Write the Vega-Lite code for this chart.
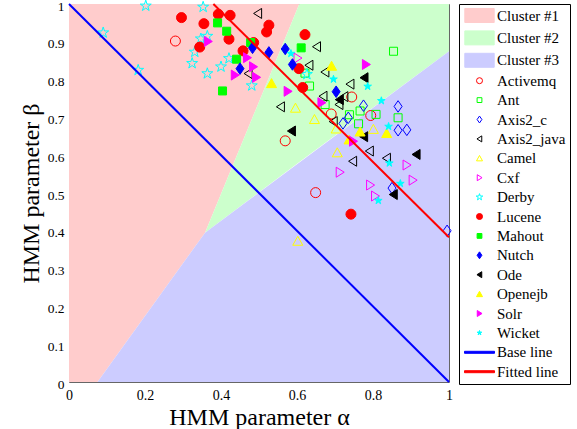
{
  "$schema": "https://vega.github.io/schema/vega-lite/v6.json",
  "width": 380,
  "height": 378,
  "autosize": {"type": "none"},
  "padding": {"left": 69, "top": 4, "right": 128, "bottom": 47},
  "background": "white",
  "config": {
    "view": {"stroke": "#666", "strokeWidth": 1},
    "font": "Liberation Serif",
    "style": {
      "guide-label": {"font": "Liberation Serif", "fill": "#000"},
      "guide-title": {"font": "Liberation Serif", "fill": "#000"}
    },
    "axis": {
      "domain": false, "ticks": false, "grid": false,
      "labelFont": "Liberation Serif", "labelFontSize": 14, "labelColor": "#000",
      "titleFont": "Liberation Serif", "titleFontSize": 24, "titleFontWeight": "normal", "titleColor": "#000"
    },
    "legend": {
      "offset": 10, "padding": 4, "strokeColor": "#000", "fillColor": "white", "cornerRadius": 0,
      "labelFont": "Liberation Serif", "labelFontSize": 15, "labelColor": "#000",
      "symbolSize": 36, "symbolStrokeWidth": 1, "rowPadding": 3.4,
      "labelOffset": 10, "symbolOffset": 9, "symbolLimit": 0
    }
  },
  "datasets": {
    "regions": [
      {"cluster": "Cluster #1", "a": 0, "b": 0, "hi": 1},
      {"cluster": "Cluster #1", "a": 0.075, "b": 0, "hi": 1},
      {"cluster": "Cluster #1", "a": 0.358, "b": 0.395, "hi": 1},
      {"cluster": "Cluster #1", "a": 0.606, "b": 1, "hi": 1},
      {"cluster": "Cluster #2", "a": 0.358, "b": 0.395, "hi": 0.395},
      {"cluster": "Cluster #2", "a": 0.606, "b": 0.582, "hi": 1},
      {"cluster": "Cluster #2", "a": 1, "b": 0.875, "hi": 1},
      {"cluster": "Cluster #3", "a": 0.075, "b": 0, "hi": 0},
      {"cluster": "Cluster #3", "a": 0.358, "b": 0, "hi": 0.395},
      {"cluster": "Cluster #3", "a": 1, "b": 0, "hi": 0.875}
    ],
    "lines": [
      {"line": "Base line", "a": 0, "b": 1},
      {"line": "Base line", "a": 1, "b": 0},
      {"line": "Fitted line", "a": 0.38, "b": 1},
      {"line": "Fitted line", "a": 1, "b": 0.383}
    ],
    "points": [
      {"name": "Activemq", "a": 0.280, "b": 0.902},
      {"name": "Activemq", "a": 0.744, "b": 0.754},
      {"name": "Activemq", "a": 0.690, "b": 0.709},
      {"name": "Activemq", "a": 0.794, "b": 0.705},
      {"name": "Activemq", "a": 0.569, "b": 0.638},
      {"name": "Activemq", "a": 0.649, "b": 0.501},
      {"name": "Ant", "a": 0.621, "b": 0.817},
      {"name": "Ant", "a": 0.633, "b": 0.783},
      {"name": "Ant", "a": 0.854, "b": 0.875},
      {"name": "Ant", "a": 0.674, "b": 0.734},
      {"name": "Ant", "a": 0.738, "b": 0.707},
      {"name": "Ant", "a": 0.766, "b": 0.717},
      {"name": "Ant", "a": 0.808, "b": 0.708},
      {"name": "Ant", "a": 0.866, "b": 0.699},
      {"name": "Ant", "a": 0.762, "b": 0.683},
      {"name": "Axis2_c", "a": 0.775, "b": 0.731},
      {"name": "Axis2_c", "a": 0.866, "b": 0.729},
      {"name": "Axis2_c", "a": 0.735, "b": 0.699},
      {"name": "Axis2_c", "a": 0.721, "b": 0.684},
      {"name": "Axis2_c", "a": 0.866, "b": 0.666},
      {"name": "Axis2_c", "a": 0.889, "b": 0.667},
      {"name": "Axis2_c", "a": 0.850, "b": 0.513},
      {"name": "Axis2_c", "a": 0.995, "b": 0.400},
      {"name": "Axis2_java", "a": 0.497, "b": 0.975},
      {"name": "Axis2_java", "a": 0.652, "b": 0.887},
      {"name": "Axis2_java", "a": 0.632, "b": 0.838},
      {"name": "Axis2_java", "a": 0.472, "b": 0.816},
      {"name": "Axis2_java", "a": 0.674, "b": 0.820},
      {"name": "Axis2_java", "a": 0.740, "b": 0.788},
      {"name": "Axis2_java", "a": 0.724, "b": 0.755},
      {"name": "Axis2_java", "a": 0.557, "b": 0.728},
      {"name": "Axis2_java", "a": 0.669, "b": 0.756},
      {"name": "Axis2_java", "a": 0.711, "b": 0.734},
      {"name": "Axis2_java", "a": 0.696, "b": 0.689},
      {"name": "Axis2_java", "a": 0.791, "b": 0.611},
      {"name": "Axis2_java", "a": 0.836, "b": 0.592},
      {"name": "Axis2_java", "a": 0.747, "b": 0.584},
      {"name": "Camel", "a": 0.596, "b": 0.725},
      {"name": "Camel", "a": 0.646, "b": 0.695},
      {"name": "Camel", "a": 0.801, "b": 0.669},
      {"name": "Camel", "a": 0.703, "b": 0.670},
      {"name": "Camel", "a": 0.706, "b": 0.607},
      {"name": "Camel", "a": 0.602, "b": 0.373},
      {"name": "Cxf", "a": 0.602, "b": 0.857},
      {"name": "Cxf", "a": 0.889, "b": 0.574},
      {"name": "Cxf", "a": 0.713, "b": 0.555},
      {"name": "Cxf", "a": 0.905, "b": 0.534},
      {"name": "Cxf", "a": 0.793, "b": 0.521},
      {"name": "Cxf", "a": 0.806, "b": 0.492},
      {"name": "Derby", "a": 0.202, "b": 0.995},
      {"name": "Derby", "a": 0.353, "b": 0.992},
      {"name": "Derby", "a": 0.090, "b": 0.924},
      {"name": "Derby", "a": 0.182, "b": 0.825},
      {"name": "Derby", "a": 0.364, "b": 0.915},
      {"name": "Derby", "a": 0.347, "b": 0.908},
      {"name": "Derby", "a": 0.331, "b": 0.873},
      {"name": "Derby", "a": 0.324, "b": 0.843},
      {"name": "Derby", "a": 0.364, "b": 0.816},
      {"name": "Derby", "a": 0.400, "b": 0.834},
      {"name": "Derby", "a": 0.421, "b": 0.856},
      {"name": "Derby", "a": 0.481, "b": 0.784},
      {"name": "Derby", "a": 0.626, "b": 0.814},
      {"name": "Lucene", "a": 0.296, "b": 0.964},
      {"name": "Lucene", "a": 0.355, "b": 0.948},
      {"name": "Lucene", "a": 0.393, "b": 0.973},
      {"name": "Lucene", "a": 0.424, "b": 0.970},
      {"name": "Lucene", "a": 0.421, "b": 0.907},
      {"name": "Lucene", "a": 0.344, "b": 0.886},
      {"name": "Lucene", "a": 0.458, "b": 0.876},
      {"name": "Lucene", "a": 0.486, "b": 0.898},
      {"name": "Lucene", "a": 0.526, "b": 0.944},
      {"name": "Lucene", "a": 0.520, "b": 0.926},
      {"name": "Lucene", "a": 0.621, "b": 0.919},
      {"name": "Lucene", "a": 0.605, "b": 0.829},
      {"name": "Lucene", "a": 0.615, "b": 0.779},
      {"name": "Lucene", "a": 0.742, "b": 0.444},
      {"name": "Mahout", "a": 0.391, "b": 0.950},
      {"name": "Mahout", "a": 0.415, "b": 0.928},
      {"name": "Mahout", "a": 0.441, "b": 0.854},
      {"name": "Mahout", "a": 0.404, "b": 0.770},
      {"name": "Mahout", "a": 0.478, "b": 0.898},
      {"name": "Mahout", "a": 0.611, "b": 0.884},
      {"name": "Nutch", "a": 0.450, "b": 0.829},
      {"name": "Nutch", "a": 0.483, "b": 0.884},
      {"name": "Nutch", "a": 0.526, "b": 0.872},
      {"name": "Nutch", "a": 0.569, "b": 0.881},
      {"name": "Nutch", "a": 0.588, "b": 0.840},
      {"name": "Nutch", "a": 0.703, "b": 0.768},
      {"name": "Ode", "a": 0.777, "b": 0.805},
      {"name": "Ode", "a": 0.712, "b": 0.747},
      {"name": "Ode", "a": 0.586, "b": 0.664},
      {"name": "Ode", "a": 0.776, "b": 0.649},
      {"name": "Ode", "a": 0.914, "b": 0.602},
      {"name": "Ode", "a": 0.854, "b": 0.496},
      {"name": "Openejb", "a": 0.533, "b": 0.790},
      {"name": "Openejb", "a": 0.691, "b": 0.836},
      {"name": "Openejb", "a": 0.766, "b": 0.662},
      {"name": "Openejb", "a": 0.836, "b": 0.658},
      {"name": "Openejb", "a": 0.737, "b": 0.641},
      {"name": "Solr", "a": 0.366, "b": 0.901},
      {"name": "Solr", "a": 0.469, "b": 0.858},
      {"name": "Solr", "a": 0.437, "b": 0.812},
      {"name": "Solr", "a": 0.485, "b": 0.834},
      {"name": "Solr", "a": 0.493, "b": 0.806},
      {"name": "Solr", "a": 0.576, "b": 0.769},
      {"name": "Solr", "a": 0.782, "b": 0.840},
      {"name": "Solr", "a": 0.665, "b": 0.739},
      {"name": "Solr", "a": 0.748, "b": 0.637},
      {"name": "Wicket", "a": 0.584, "b": 0.869},
      {"name": "Wicket", "a": 0.696, "b": 0.801},
      {"name": "Wicket", "a": 0.786, "b": 0.782},
      {"name": "Wicket", "a": 0.822, "b": 0.744},
      {"name": "Wicket", "a": 0.841, "b": 0.676},
      {"name": "Wicket", "a": 0.843, "b": 0.579},
      {"name": "Wicket", "a": 0.872, "b": 0.525},
      {"name": "Wicket", "a": 0.814, "b": 0.480}
    ]
  },
  "encoding": {
    "x": {"field": "a", "type": "quantitative", "scale": {"domain": [0, 1], "nice": false},
          "axis": {"values": [0, 0.2, 0.4, 0.6, 0.8, 1], "format": "~g", "labelFlush": false, "labelOverlap": false, "labelPadding": 6, "title": "HMM parameter α", "titlePadding": 3}},
    "y": {"field": "b", "type": "quantitative", "stack": null, "scale": {"domain": [0, 1], "nice": false},
          "axis": {"values": [0, 0.1, 0.2, 0.3, 0.4, 0.5, 0.6, 0.7, 0.8, 0.9, 1], "tickCount": 11, "format": "~g", "labelFlush": false, "labelOverlap": false, "labelSeparation": 0, "labelPadding": 5, "labelOffset": 2, "labelFontSize": 13.5, "title": "HMM parameter β", "titlePadding": 4}}
  },
  "layer": [
    {
      "data": {"name": "regions"},
      "mark": {"type": "area", "opacity": 1},
      "encoding": {
        "y2": {"field": "hi"},
        "color": {"field": "cluster", "type": "nominal", "legend": null,
                  "scale": {"domain": ["Cluster #1", "Cluster #2", "Cluster #3"], "range": ["#FFCCCC", "#CCFFCC", "#CCCCFF"]}}
      }
    },
    {
      "data": {"name": "points"},
      "mark": {"type": "point", "filled": true, "size": 100, "strokeWidth": 1, "opacity": 1},
      "encoding": {
        "shape": {"field": "name", "type": "nominal", "legend": {"title": null},
          "scale": {
            "domain": ["Cluster #1", "Cluster #2", "Cluster #3", "Activemq", "Ant", "Axis2_c", "Axis2_java", "Camel", "Cxf", "Derby", "Lucene", "Mahout", "Nutch", "Ode", "Openejb", "Solr", "Wicket", "Base line", "Fitted line"],
            "range": [
              "M-4.9,-2.33H4.9V2.33H-4.9Z", "M-4.9,-2.33H4.9V2.33H-4.9Z", "M-4.9,-2.33H4.9V2.33H-4.9Z",
              "circle", "M-0.8,-0.8H0.8V0.8H-0.8Z", "M0,-1.15L0.8,0L0,1.15L-0.8,0Z", "M-0.85,0L0.75,-1L0.75,1Z", "M0,-0.95L1,0.85L-1,0.85Z", "M0.85,0L-0.75,-1L-0.75,1Z",
              "M0,-1.15L0.259,-0.356L1.094,-0.355L0.418,0.136L0.676,0.93L0,0.44L-0.676,0.93L-0.418,0.136L-1.094,-0.355L-0.259,-0.356Z",
              "circle", "M-0.8,-0.8H0.8V0.8H-0.8Z", "M0,-1.15L0.8,0L0,1.15L-0.8,0Z", "M-0.85,0L0.75,-1L0.75,1Z", "M0,-0.95L1,0.85L-1,0.85Z", "M0.85,0L-0.75,-1L-0.75,1Z",
              "M0,-0.8L0.18,-0.247L0.761,-0.247L0.291,0.094L0.47,0.647L0,0.306L-0.47,0.647L-0.291,0.094L-0.761,-0.247L-0.18,-0.247Z",
              "M-5,-0.33H5V0.33H-5Z", "M-5,-0.33H5V0.33H-5Z"
            ]}},
        "fill": {"field": "name", "type": "nominal", "legend": {"title": null},
          "scale": {
            "domain": ["Cluster #1", "Cluster #2", "Cluster #3", "Activemq", "Ant", "Axis2_c", "Axis2_java", "Camel", "Cxf", "Derby", "Lucene", "Mahout", "Nutch", "Ode", "Openejb", "Solr", "Wicket", "Base line", "Fitted line"],
            "range": ["#FFCCCC", "#CCFFCC", "#CCCCFF", "transparent", "transparent", "transparent", "transparent", "transparent", "transparent", "transparent", "#FF0000", "#00FF00", "#0000FF", "#000000", "#FFFF00", "#FF00FF", "#00FFFF", "#0000FF", "#FF0000"]}},
        "stroke": {"field": "name", "type": "nominal", "legend": {"title": null},
          "scale": {
            "domain": ["Cluster #1", "Cluster #2", "Cluster #3", "Activemq", "Ant", "Axis2_c", "Axis2_java", "Camel", "Cxf", "Derby", "Lucene", "Mahout", "Nutch", "Ode", "Openejb", "Solr", "Wicket", "Base line", "Fitted line"],
            "range": ["#FFCCCC", "#CCFFCC", "#CCCCFF", "#FF0000", "#00FF00", "#0000FF", "#000000", "#FFFF00", "#FF00FF", "#00FFFF", "#FF0000", "#00FF00", "#0000FF", "#000000", "#FFFF00", "#FF00FF", "#00FFFF", "#0000FF", "#FF0000"]}}
      }
    },
    {
      "data": {"name": "lines"},
      "transform": [{"filter": "datum.line === 'Base line'"}],
      "mark": {"type": "line", "color": "#0000FF", "strokeWidth": 2},
      "encoding": {}
    },
    {
      "data": {"name": "lines"},
      "transform": [{"filter": "datum.line === 'Fitted line'"}],
      "mark": {"type": "line", "color": "#FF0000", "strokeWidth": 2},
      "encoding": {}
    }
  ]
}
